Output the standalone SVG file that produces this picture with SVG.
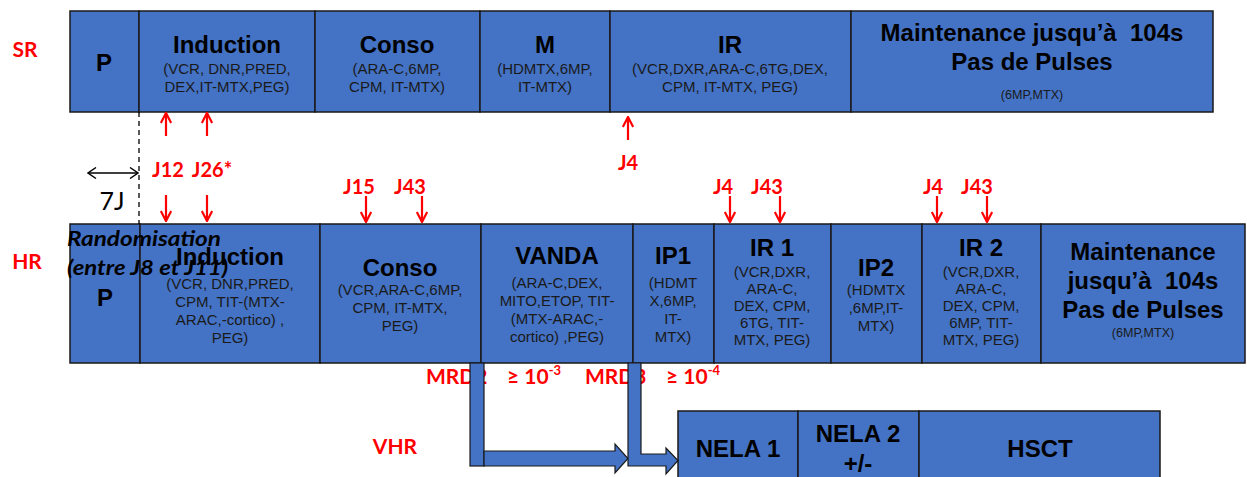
<svg xmlns="http://www.w3.org/2000/svg" width="1247" height="477" viewBox="0 0 1247 477">
<defs>
<style>
.box{fill:#4472C4;stroke:#1a1a1a;stroke-width:1.5}
.t{font-family:"Liberation Sans",Arial,sans-serif;font-weight:bold;font-size:24px;fill:#000;text-anchor:middle}
.s{font-family:"Liberation Sans",Arial,sans-serif;font-size:15px;fill:#1a1a1a;text-anchor:middle}
.xs{font-family:"Liberation Sans",Arial,sans-serif;font-size:12.5px;fill:#1a1a1a;text-anchor:middle}
.red{font-family:Lato,"Liberation Sans",sans-serif;font-weight:bold;font-size:20px;fill:#FF0000;text-anchor:middle}
.mrd{font-family:Lato,"Liberation Sans",sans-serif;font-weight:bold;font-size:21px;fill:#FF0000}
.rand{font-family:Lato,"Liberation Sans",sans-serif;font-weight:bold;font-style:italic;font-size:20px;fill:#000}
.ra{stroke:#FF0000;stroke-width:2.2;fill:none;marker-end:url(#rh)}
.blue{fill:#4472C4;stroke:#1a1a1a;stroke-width:1.2}
</style>
<marker id="rh" viewBox="0 0 12 12" refX="11" refY="6" markerWidth="12" markerHeight="12" markerUnits="userSpaceOnUse" orient="auto">
<path d="M1,0.8 L11,6 L1,11.2" fill="none" stroke="#FF0000" stroke-width="2.2"/>
</marker>
<marker id="bh" viewBox="0 0 10 12" refX="9" refY="6" markerWidth="10" markerHeight="12" markerUnits="userSpaceOnUse" orient="auto-start-reverse">
<path d="M1,0.5 L9,6 L1,11.5" fill="none" stroke="#000" stroke-width="1.4"/>
</marker>
</defs>
<rect width="1247" height="477" fill="#fff"/>

<!-- row labels -->
<text class="red" x="25" y="57" style="font-size:21px">SR</text>
<text class="red" x="27" y="269" style="font-size:21px">HR</text>
<text class="red" x="395" y="454" style="font-size:21px">VHR</text>

<!-- SR row -->
<g id="sr-p"><rect class="box" x="70" y="11" width="69" height="101"/><text class="t" x="104" y="71">P</text></g>
<g id="sr-induction"><rect class="box" x="139" y="11" width="176" height="101"/>
<text class="t" x="227" y="53">Induction</text>
<text class="s" x="227" y="74">(VCR, DNR,PRED,</text>
<text class="s" x="227" y="92">DEX,IT-MTX,PEG)</text></g>
<g id="sr-conso"><rect class="box" x="315" y="11" width="165" height="101"/>
<text class="t" x="397" y="53">Conso</text>
<text class="s" x="397" y="74">(ARA-C,6MP,</text>
<text class="s" x="397" y="92">CPM, IT-MTX)</text></g>
<g id="sr-m"><rect class="box" x="480" y="11" width="130" height="101"/>
<text class="t" x="545" y="53">M</text>
<text class="s" x="545" y="74">(HDMTX,6MP,</text>
<text class="s" x="545" y="92">IT-MTX)</text></g>
<g id="sr-ir"><rect class="box" x="610" y="11" width="241" height="101"/>
<text class="t" x="730" y="53">IR</text>
<text class="s" x="730" y="74">(VCR,DXR,ARA-C,6TG,DEX,</text>
<text class="s" x="730" y="92">CPM, IT-MTX, PEG)</text></g>
<g id="sr-maintenance"><rect class="box" x="851" y="11" width="362" height="101"/>
<text class="t" x="1032" y="41">Maintenance jusqu’à&#160; 104s</text>
<text class="t" x="1032" y="70">Pas de Pulses</text>
<text class="xs" x="1032" y="99">(6MP,MTX)</text></g>

<!-- HR row -->
<g id="hr-p"><rect class="box" x="70" y="224" width="70" height="139"/><text class="t" x="105" y="306">P</text></g>
<g id="hr-induction"><rect class="box" x="140" y="224" width="180" height="139"/>
<text class="t" x="230" y="265">Induction</text>
<text class="s" x="230" y="289">(VCR, DNR,PRED,</text>
<text class="s" x="230" y="307">CPM, TIT-(MTX-</text>
<text class="s" x="230" y="325">ARAC,-cortico) ,</text>
<text class="s" x="230" y="343">PEG)</text></g>
<g id="hr-conso"><rect class="box" x="320" y="224" width="161" height="139"/>
<text class="t" x="400" y="276">Conso</text>
<text class="s" x="400" y="295">(VCR,ARA-C,6MP,</text>
<text class="s" x="400" y="313">CPM, IT-MTX,</text>
<text class="s" x="400" y="331">PEG)</text></g>
<g id="hr-vanda"><rect class="box" x="481" y="224" width="152" height="139"/>
<text class="t" x="557" y="264">VANDA</text>
<text class="s" x="557" y="288">(ARA-C,DEX,</text>
<text class="s" x="557" y="306">MITO,ETOP, TIT-</text>
<text class="s" x="557" y="324">(MTX-ARAC,-</text>
<text class="s" x="557" y="342">cortico) ,PEG)</text></g>
<g id="hr-ip1"><rect class="box" x="633" y="224" width="81" height="139"/>
<text class="t" x="673" y="264">IP1</text>
<text class="s" x="673" y="288">(HDMT</text>
<text class="s" x="673" y="306">X,6MP,</text>
<text class="s" x="673" y="324">IT-</text>
<text class="s" x="673" y="342">MTX)</text></g>
<g id="hr-ir1"><rect class="box" x="714" y="224" width="117" height="139"/>
<text class="t" x="772" y="256">IR 1</text>
<text class="s" x="772" y="277">(VCR,DXR,</text>
<text class="s" x="772" y="294">ARA-C,</text>
<text class="s" x="772" y="311">DEX, CPM,</text>
<text class="s" x="772" y="328">6TG, TIT-</text>
<text class="s" x="772" y="345">MTX, PEG)</text></g>
<g id="hr-ip2"><rect class="box" x="831" y="224" width="91" height="139"/>
<text class="t" x="876" y="276">IP2</text>
<text class="s" x="876" y="295">(HDMTX</text>
<text class="s" x="876" y="313">,6MP,IT-</text>
<text class="s" x="876" y="331">MTX)</text></g>
<g id="hr-ir2"><rect class="box" x="922" y="224" width="119" height="139"/>
<text class="t" x="981" y="256">IR 2</text>
<text class="s" x="981" y="277">(VCR,DXR,</text>
<text class="s" x="981" y="294">ARA-C,</text>
<text class="s" x="981" y="311">DEX, CPM,</text>
<text class="s" x="981" y="328">6MP, TIT-</text>
<text class="s" x="981" y="345">MTX, PEG)</text></g>
<g id="hr-maintenance"><rect class="box" x="1041" y="224" width="204" height="139"/>
<text class="t" x="1143" y="260">Maintenance</text>
<text class="t" x="1143" y="289">jusqu’à&#160; 104s</text>
<text class="t" x="1143" y="318">Pas de Pulses</text>
<text class="xs" x="1143" y="337">(6MP,MTX)</text></g>

<!-- VHR row -->
<g id="vhr-nela1"><rect class="box" x="678" y="411" width="120" height="80"/><text class="t" x="738" y="457">NELA 1</text></g>
<g id="vhr-nela2"><rect class="box" x="798" y="411" width="121" height="80"/>
<text class="t" x="858" y="442">NELA 2</text><text class="t" x="858" y="472">+/-</text></g>
<g id="vhr-hsct"><rect class="box" x="919" y="411" width="241" height="80"/><text class="t" x="1040" y="457">HSCT</text></g>

<!-- randomisation overlay -->
<g id="randomisation">
<text class="rand" x="67" y="246" textLength="154" lengthAdjust="spacingAndGlyphs">Randomisation</text>
<text class="rand" x="67" y="275" textLength="161" lengthAdjust="spacingAndGlyphs">(entre J8 et J11)</text>
</g>

<!-- red day labels -->
<g id="day-labels">
<text class="red" x="168" y="177">J12</text>
<text class="red" x="212" y="177">J26*</text>
<text class="red" x="628" y="170">J4</text>
<text class="red" x="359" y="194">J15</text>
<text class="red" x="410" y="194">J43</text>
<text class="red" x="723" y="194">J4</text>
<text class="red" x="767" y="194">J43</text>
<text class="red" x="933" y="194">J4</text>
<text class="red" x="977" y="194">J43</text>
<text style="font-family:Lato,'Liberation Sans',sans-serif;font-size:25px;fill:#000;text-anchor:middle" x="112" y="210">7J</text>
</g>

<!-- MRD labels -->
<g id="mrd-labels">
<text class="mrd" x="426" y="384">MRD2<tspan x="507">≥ 10</tspan><tspan dy="-9" font-size="13">-3</tspan></text>
<text class="mrd" x="585" y="384">MRD3<tspan x="666">≥ 10</tspan><tspan dy="-9" font-size="13">-4</tspan></text>
</g>

<!-- connectors -->
<g id="connectors">
<line x1="139" y1="112" x2="139" y2="224" stroke="#000" stroke-width="1.3" stroke-dasharray="5,4"/>
<line x1="88" y1="173" x2="138" y2="173" stroke="#000" stroke-width="1.4" marker-start="url(#bh)" marker-end="url(#bh)"/>
<line class="ra" x1="166" y1="136" x2="166" y2="113"/>
<line class="ra" x1="207" y1="136" x2="207" y2="113"/>
<line class="ra" x1="628" y1="140" x2="628" y2="117"/>
<line class="ra" x1="166" y1="195" x2="166" y2="221"/>
<line class="ra" x1="207" y1="195" x2="207" y2="221"/>
<line class="ra" x1="366" y1="196" x2="366" y2="222"/>
<line class="ra" x1="422" y1="196" x2="422" y2="222"/>
<line class="ra" x1="730" y1="196" x2="730" y2="222"/>
<line class="ra" x1="780" y1="196" x2="780" y2="222"/>
<line class="ra" x1="937" y1="196" x2="937" y2="222"/>
<line class="ra" x1="987" y1="196" x2="987" y2="222"/>
<rect class="blue" x="470" y="363" width="14" height="103"/>
<path class="blue" d="M484,451 L615,451 L615,444 L628,458.5 L615,473 L615,466 L484,466 Z"/>
<path class="blue" d="M628,363 L628,466 L666,466 L666,474 L678,460.5 L666,448 L666,454 L641,454 L641,363 Z"/>
</g>
</svg>
